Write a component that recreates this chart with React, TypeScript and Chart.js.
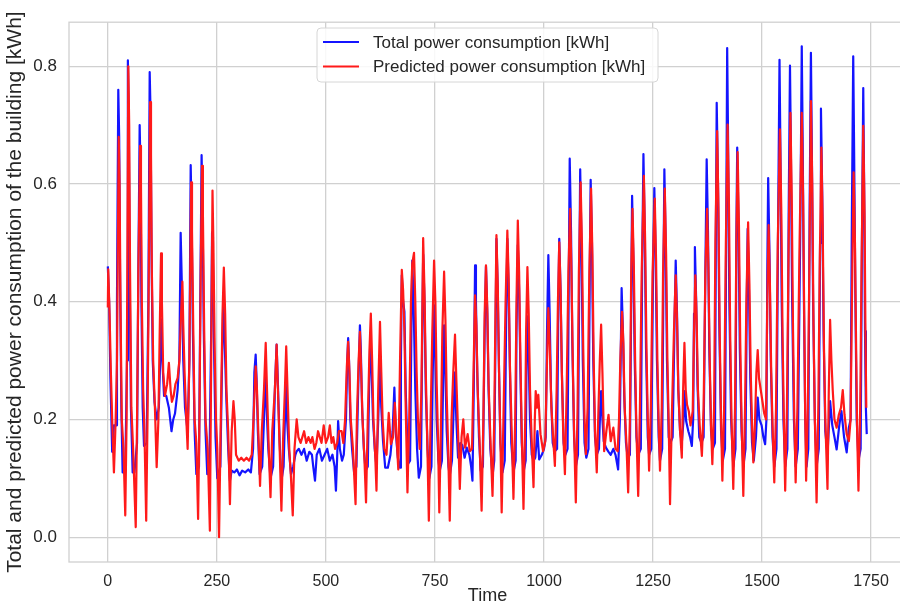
import React, { useEffect, useRef } from "react";
import { Chart, registerables } from "chart.js";

Chart.register(...registerables);

const seriesLabels = ["Total power consumption [kWh]", "Predicted power consumption [kWh]"];
const seriesColors = ["#1414ff", "#ff1a1a"];
const xTicks = [0, 250, 500, 750, 1000, 1250, 1500, 1750];
const yTicks = [0, 0.2, 0.4, 0.6, 0.8];
const xTitle = "Time";
const yTitle = "Total and predicted power consumption of the building [kWh]";

// [time index, kWh]
const actualPoints: [number, number][] = [
  [0,0.46],[3,0.40],[6,0.27],[10,0.145],[14,0.19],[19,0.19],[21,0.4],[24,0.76],[26,0.68],[28,0.45],[31,0.22],[34,0.11],[40,0.11],[44,0.3],[46,0.81],[48,0.72],[50,0.45],[53,0.22],[57,0.11],[61,0.11],[67,0.16],[70,0.45],[73,0.70],[75,0.62],[77,0.40],[80,0.22],[83,0.155],[89,0.16],[93,0.4],[96,0.79],[98,0.72],[100,0.50],[103,0.30],[107,0.23],[112,0.20],[117,0.22],[120,0.30],[122,0.37],[125,0.30],[129,0.24],[134,0.24],[140,0.22],[146,0.18],[150,0.20],[154,0.21],[160,0.25],[164,0.30],[167,0.517],[170,0.42],[173,0.30],[177,0.22],[183,0.18],[187,0.3],[190,0.632],[192,0.55],[195,0.35],[199,0.18],[203,0.107],[209,0.12],[212,0.4],[215,0.649],[217,0.57],[220,0.35],[224,0.18],[228,0.107],[233,0.12],[237,0.35],[239,0.518],[241,0.47],[244,0.30],[247,0.17],[251,0.10],[258,0.12],[262,0.3],[265,0.41],[268,0.33],[272,0.23],[276,0.15],[280,0.096],[284,0.113],[290,0.11],[296,0.115],[302,0.105],[308,0.113],[315,0.11],[322,0.115],[328,0.11],[333,0.15],[336,0.28],[339,0.31],[341,0.27],[344,0.18],[348,0.107],[354,0.12],[358,0.2],[361,0.276],[364,0.22],[368,0.15],[373,0.10],[379,0.12],[383,0.25],[387,0.327],[390,0.26],[394,0.16],[398,0.096],[403,0.12],[406,0.2],[408,0.26],[411,0.2],[415,0.15],[420,0.107],[425,0.12],[430,0.14],[433,0.146],[438,0.15],[444,0.14],[450,0.15],[456,0.13],[462,0.145],[468,0.14],[471,0.12],[475,0.096],[479,0.14],[485,0.15],[491,0.13],[497,0.14],[503,0.15],[509,0.13],[515,0.14],[520,0.12],[523,0.079],[526,0.14],[528,0.197],[532,0.15],[537,0.13],[541,0.14],[546,0.2],[549,0.3],[551,0.338],[553,0.3],[556,0.2],[560,0.15],[565,0.107],[570,0.12],[574,0.25],[578,0.36],[580,0.32],[583,0.22],[587,0.15],[591,0.113],[596,0.12],[599,0.25],[602,0.344],[605,0.28],[608,0.2],[612,0.15],[616,0.12],[620,0.2],[624,0.3],[627,0.22],[631,0.163],[636,0.118],[642,0.118],[648,0.14],[653,0.18],[657,0.254],[660,0.18],[665,0.135],[670,0.118],[672,0.3],[674,0.445],[677,0.40],[680,0.383],[683,0.25],[688,0.124],[693,0.13],[696,0.35],[698,0.47],[701,0.4],[705,0.25],[709,0.15],[713,0.101],[718,0.12],[721,0.35],[723,0.48],[726,0.4],[729,0.25],[733,0.15],[737,0.10],[742,0.12],[745,0.28],[748,0.394],[751,0.3],[754,0.2],[758,0.13],[761,0.113],[766,0.13],[769,0.28],[771,0.36],[774,0.28],[777,0.18],[781,0.12],[784,0.105],[789,0.13],[793,0.22],[796,0.28],[799,0.2],[803,0.135],[808,0.16],[813,0.156],[818,0.135],[823,0.152],[829,0.14],[833,0.12],[836,0.096],[839,0.25],[842,0.462],[844,0.40],[847,0.28],[851,0.17],[855,0.113],[860,0.12],[864,0.35],[867,0.46],[870,0.38],[873,0.25],[877,0.15],[882,0.104],[886,0.13],[889,0.35],[891,0.507],[894,0.42],[897,0.28],[900,0.16],[905,0.11],[910,0.13],[913,0.35],[916,0.507],[919,0.42],[922,0.28],[925,0.16],[930,0.11],[935,0.13],[937,0.35],[940,0.496],[943,0.42],[946,0.28],[949,0.16],[953,0.11],[958,0.13],[960,0.3],[962,0.375],[965,0.3],[968,0.2],[972,0.14],[976,0.13],[980,0.135],[985,0.18],[989,0.132],[995,0.14],[1000,0.15],[1004,0.17],[1007,0.35],[1010,0.479],[1013,0.38],[1016,0.25],[1020,0.16],[1025,0.146],[1030,0.15],[1033,0.4],[1035,0.507],[1038,0.42],[1041,0.28],[1045,0.16],[1049,0.14],[1054,0.15],[1057,0.45],[1059,0.643],[1062,0.52],[1065,0.33],[1069,0.17],[1073,0.12],[1078,0.14],[1081,0.45],[1083,0.625],[1086,0.5],[1089,0.3],[1093,0.16],[1097,0.135],[1102,0.15],[1105,0.45],[1107,0.607],[1110,0.5],[1113,0.3],[1117,0.17],[1121,0.14],[1126,0.15],[1129,0.22],[1131,0.248],[1134,0.2],[1137,0.163],[1142,0.152],[1148,0.145],[1153,0.14],[1159,0.15],[1164,0.14],[1170,0.115],[1174,0.2],[1178,0.423],[1181,0.35],[1184,0.24],[1188,0.16],[1192,0.135],[1197,0.14],[1200,0.4],[1202,0.58],[1205,0.47],[1208,0.3],[1212,0.17],[1216,0.14],[1222,0.15],[1225,0.45],[1228,0.651],[1231,0.52],[1234,0.32],[1238,0.17],[1241,0.14],[1246,0.15],[1250,0.45],[1253,0.593],[1256,0.48],[1259,0.3],[1263,0.17],[1266,0.13],[1271,0.15],[1274,0.45],[1276,0.625],[1279,0.5],[1282,0.3],[1286,0.17],[1290,0.16],[1295,0.17],[1299,0.35],[1302,0.47],[1305,0.38],[1308,0.25],[1312,0.18],[1316,0.16],[1320,0.2],[1322,0.248],[1326,0.197],[1331,0.18],[1335,0.17],[1339,0.155],[1342,0.2],[1344,0.38],[1346,0.493],[1349,0.4],[1352,0.26],[1356,0.17],[1361,0.16],[1366,0.17],[1370,0.45],[1373,0.642],[1376,0.52],[1379,0.32],[1383,0.18],[1387,0.15],[1392,0.16],[1394,0.5],[1396,0.738],[1399,0.6],[1402,0.36],[1406,0.18],[1410,0.13],[1415,0.15],[1418,0.55],[1420,0.831],[1422,0.68],[1425,0.4],[1429,0.2],[1434,0.12],[1439,0.15],[1441,0.5],[1443,0.662],[1446,0.53],[1449,0.32],[1453,0.18],[1457,0.12],[1462,0.15],[1465,0.4],[1467,0.524],[1470,0.42],[1473,0.27],[1477,0.16],[1481,0.13],[1486,0.17],[1490,0.237],[1494,0.2],[1499,0.19],[1503,0.17],[1507,0.158],[1510,0.2],[1512,0.45],[1514,0.61],[1517,0.48],[1520,0.3],[1524,0.17],[1528,0.12],[1533,0.15],[1537,0.55],[1540,0.811],[1542,0.66],[1545,0.4],[1549,0.2],[1553,0.12],[1558,0.15],[1561,0.55],[1564,0.801],[1566,0.66],[1569,0.4],[1573,0.2],[1577,0.12],[1582,0.15],[1588,0.55],[1591,0.834],[1593,0.68],[1596,0.4],[1599,0.2],[1602,0.12],[1606,0.15],[1609,0.55],[1612,0.823],[1614,0.67],[1617,0.4],[1621,0.2],[1625,0.12],[1630,0.15],[1633,0.5],[1635,0.728],[1638,0.58],[1641,0.35],[1645,0.18],[1650,0.14],[1654,0.2],[1656,0.231],[1661,0.19],[1666,0.17],[1671,0.149],[1677,0.19],[1682,0.214],[1688,0.17],[1694,0.144],[1699,0.186],[1703,0.2],[1706,0.55],[1709,0.817],[1711,0.66],[1714,0.4],[1717,0.2],[1721,0.13],[1726,0.15],[1729,0.5],[1732,0.763],[1734,0.6],[1736,0.35],[1738,0.22],[1740,0.175]
];

const predictedPoints: [number, number][] = [
  [0,0.39],[1,0.455],[4,0.38],[7,0.28],[10,0.2],[14,0.11],[18,0.2],[21,0.3],[25,0.68],[27,0.6],[29,0.4],[32,0.2],[36,0.15],[40,0.037],[43,0.2],[47,0.80],[49,0.7],[51,0.45],[54,0.22],[58,0.15],[64,0.017],[67,0.2],[70,0.45],[74,0.665],[76,0.6],[78,0.4],[81,0.25],[84,0.18],[88,0.028],[91,0.2],[94,0.45],[97,0.739],[99,0.65],[101,0.45],[104,0.3],[108,0.22],[112,0.119],[116,0.2],[119,0.35],[122,0.482],[124,0.4],[127,0.28],[131,0.24],[136,0.26],[140,0.296],[144,0.25],[147,0.23],[151,0.24],[155,0.26],[160,0.27],[164,0.3],[168,0.38],[171,0.434],[173,0.36],[176,0.28],[180,0.2],[183,0.15],[187,0.3],[191,0.603],[193,0.52],[196,0.35],[199,0.2],[203,0.16],[207,0.031],[210,0.2],[213,0.45],[216,0.631],[218,0.55],[221,0.35],[224,0.2],[229,0.15],[234,0.011],[237,0.3],[240,0.589],[242,0.5],[245,0.32],[248,0.2],[251,0.15],[255,0.0],[259,0.2],[263,0.38],[266,0.458],[269,0.38],[272,0.25],[276,0.18],[280,0.056],[284,0.18],[288,0.231],[291,0.2],[294,0.14],[300,0.13],[306,0.135],[312,0.13],[318,0.135],[324,0.13],[330,0.14],[334,0.2],[339,0.29],[342,0.25],[345,0.18],[349,0.087],[353,0.18],[358,0.25],[362,0.33],[365,0.25],[369,0.15],[373,0.068],[377,0.18],[383,0.25],[387,0.327],[390,0.25],[394,0.15],[398,0.045],[402,0.17],[406,0.25],[409,0.324],[412,0.25],[416,0.15],[420,0.1],[424,0.037],[428,0.15],[433,0.2],[437,0.17],[442,0.16],[446,0.17],[450,0.18],[455,0.16],[460,0.17],[465,0.16],[469,0.17],[474,0.15],[478,0.16],[482,0.18],[486,0.17],[490,0.16],[495,0.19],[500,0.16],[505,0.17],[509,0.19],[513,0.16],[517,0.17],[521,0.15],[526,0.16],[530,0.18],[536,0.18],[540,0.16],[544,0.2],[548,0.29],[551,0.332],[554,0.28],[557,0.2],[562,0.15],[568,0.056],[571,0.2],[575,0.3],[578,0.349],[581,0.28],[584,0.2],[588,0.14],[592,0.059],[596,0.2],[600,0.32],[603,0.38],[606,0.3],[609,0.2],[613,0.14],[616,0.079],[620,0.25],[624,0.366],[627,0.28],[630,0.2],[634,0.15],[639,0.14],[644,0.211],[649,0.158],[654,0.17],[658,0.228],[662,0.17],[666,0.115],[670,0.3],[674,0.454],[677,0.42],[680,0.35],[683,0.22],[687,0.076],[691,0.2],[695,0.4],[698,0.465],[702,0.483],[705,0.4],[708,0.28],[711,0.2],[715,0.15],[719,0.25],[723,0.508],[726,0.42],[729,0.28],[732,0.18],[736,0.028],[740,0.2],[744,0.35],[748,0.47],[751,0.4],[754,0.26],[757,0.17],[760,0.042],[764,0.2],[767,0.35],[771,0.451],[774,0.37],[777,0.24],[780,0.16],[784,0.028],[788,0.2],[792,0.28],[796,0.344],[799,0.27],[803,0.18],[807,0.082],[811,0.17],[815,0.2],[819,0.152],[825,0.175],[830,0.146],[835,0.15],[839,0.3],[842,0.411],[845,0.36],[848,0.25],[852,0.17],[857,0.045],[861,0.2],[864,0.38],[867,0.462],[870,0.39],[873,0.26],[877,0.17],[882,0.07],[886,0.2],[889,0.4],[891,0.513],[894,0.43],[897,0.28],[900,0.17],[903,0.042],[907,0.2],[912,0.4],[916,0.521],[919,0.44],[922,0.29],[926,0.18],[930,0.065],[934,0.2],[937,0.4],[940,0.538],[943,0.45],[946,0.3],[949,0.18],[953,0.048],[957,0.2],[959,0.35],[962,0.459],[965,0.38],[968,0.25],[972,0.16],[976,0.085],[979,0.2],[981,0.248],[984,0.22],[987,0.242],[992,0.175],[998,0.146],[1003,0.163],[1007,0.3],[1010,0.389],[1013,0.33],[1017,0.22],[1021,0.17],[1025,0.121],[1029,0.25],[1032,0.4],[1035,0.501],[1038,0.42],[1041,0.28],[1044,0.18],[1048,0.107],[1052,0.25],[1056,0.45],[1060,0.558],[1063,0.45],[1066,0.3],[1069,0.18],[1073,0.059],[1077,0.22],[1080,0.45],[1084,0.603],[1087,0.5],[1090,0.32],[1093,0.2],[1096,0.141],[1100,0.22],[1104,0.45],[1108,0.592],[1111,0.48],[1114,0.3],[1117,0.18],[1121,0.11],[1125,0.22],[1128,0.3],[1131,0.361],[1134,0.28],[1138,0.146],[1143,0.18],[1148,0.208],[1153,0.163],[1159,0.186],[1164,0.15],[1169,0.146],[1172,0.2],[1175,0.3],[1179,0.383],[1182,0.33],[1185,0.22],[1189,0.16],[1193,0.076],[1197,0.2],[1200,0.45],[1203,0.558],[1206,0.46],[1209,0.3],[1212,0.18],[1216,0.07],[1220,0.22],[1224,0.45],[1229,0.614],[1232,0.5],[1235,0.32],[1238,0.2],[1241,0.113],[1245,0.22],[1249,0.45],[1254,0.575],[1257,0.47],[1260,0.3],[1263,0.19],[1266,0.113],[1270,0.22],[1273,0.45],[1277,0.592],[1280,0.48],[1283,0.3],[1286,0.19],[1289,0.056],[1293,0.2],[1298,0.35],[1302,0.445],[1305,0.37],[1308,0.25],[1312,0.18],[1316,0.135],[1319,0.25],[1322,0.33],[1325,0.25],[1328,0.225],[1332,0.214],[1336,0.19],[1341,0.214],[1344,0.35],[1347,0.445],[1350,0.37],[1353,0.25],[1357,0.19],[1362,0.138],[1366,0.22],[1370,0.45],[1374,0.558],[1377,0.46],[1380,0.3],[1383,0.19],[1386,0.124],[1390,0.22],[1393,0.5],[1397,0.69],[1400,0.56],[1403,0.34],[1406,0.2],[1409,0.096],[1413,0.22],[1417,0.5],[1421,0.701],[1424,0.57],[1427,0.34],[1430,0.2],[1434,0.082],[1438,0.22],[1441,0.5],[1444,0.654],[1447,0.53],[1450,0.33],[1453,0.2],[1457,0.07],[1461,0.22],[1464,0.4],[1468,0.535],[1471,0.43],[1474,0.28],[1477,0.19],[1480,0.127],[1484,0.2],[1487,0.28],[1490,0.318],[1493,0.27],[1497,0.25],[1501,0.23],[1505,0.21],[1509,0.2],[1512,0.4],[1515,0.53],[1518,0.43],[1521,0.28],[1524,0.19],[1528,0.093],[1532,0.22],[1536,0.5],[1541,0.693],[1544,0.56],[1547,0.34],[1550,0.2],[1553,0.079],[1557,0.22],[1561,0.5],[1565,0.721],[1568,0.58],[1571,0.35],[1574,0.2],[1577,0.093],[1581,0.22],[1586,0.5],[1591,0.721],[1594,0.58],[1597,0.35],[1599,0.2],[1601,0.096],[1605,0.22],[1609,0.5],[1612,0.741],[1615,0.6],[1618,0.36],[1621,0.2],[1625,0.059],[1629,0.22],[1632,0.45],[1636,0.662],[1639,0.53],[1642,0.32],[1645,0.2],[1650,0.082],[1653,0.25],[1656,0.369],[1659,0.3],[1662,0.25],[1666,0.2],[1671,0.186],[1676,0.208],[1681,0.22],[1685,0.25],[1689,0.208],[1694,0.175],[1699,0.163],[1703,0.2],[1706,0.4],[1710,0.62],[1713,0.5],[1716,0.3],[1718,0.18],[1721,0.079],[1725,0.22],[1728,0.45],[1732,0.699],[1735,0.55],[1737,0.35],[1739,0.22]
];

const FONT = "'Liberation Sans', Arial, Helvetica, sans-serif";
const TEXT_COLOR = "#262626";
const GRID_COLOR = "#d0d0d0";

const framePlugin = {
  id: "frame",
  beforeDatasetsDraw(chart: any) {
    const { ctx, chartArea } = chart;
    ctx.save();
    ctx.strokeStyle = GRID_COLOR;
    ctx.lineWidth = 1.3;
    ctx.strokeRect(chartArea.left, chartArea.top, chartArea.right - chartArea.left, chartArea.bottom - chartArea.top);
    ctx.restore();
  },
};

const legendPlugin = {
  id: "customLegend",
  afterDatasetsDraw(chart: any) {
    const { ctx } = chart;
    const x = 317, y = 28, w = 341, h = 54;
    ctx.save();
    ctx.beginPath();
    if ((ctx as any).roundRect) (ctx as any).roundRect(x, y, w, h, 4);
    else ctx.rect(x, y, w, h);
    ctx.fillStyle = "rgba(255,255,255,0.85)";
    ctx.fill();
    ctx.strokeStyle = "#d6d6d6";
    ctx.lineWidth = 1;
    ctx.stroke();
    const rows = [42, 66.5];
    seriesLabels.forEach((label, i) => {
      ctx.beginPath();
      ctx.strokeStyle = seriesColors[i];
      ctx.lineWidth = 2.2;
      ctx.moveTo(323, rows[i]);
      ctx.lineTo(359, rows[i]);
      ctx.stroke();
      ctx.fillStyle = TEXT_COLOR;
      ctx.font = `17px ${FONT}`;
      ctx.textBaseline = "middle";
      ctx.textAlign = "left";
      ctx.fillText(label, 373, rows[i] + 1);
    });
    ctx.restore();
  },
};

export default function App() {
  const canvasRef = useRef<HTMLCanvasElement | null>(null);

  useEffect(() => {
    if (!canvasRef.current) return;
    const chart = new Chart(canvasRef.current, {
      type: "line",
      data: {
        datasets: [
          {
            label: seriesLabels[0],
            data: actualPoints.map(([x, y]) => ({ x, y })),
            borderColor: seriesColors[0],
            backgroundColor: seriesColors[0],
            borderWidth: 2.2,
            pointRadius: 0,
            tension: 0,
            borderJoinStyle: "round",
            order: 2,
          },
          {
            label: seriesLabels[1],
            data: predictedPoints.map(([x, y]) => ({ x, y })),
            borderColor: seriesColors[1],
            backgroundColor: seriesColors[1],
            borderWidth: 2.2,
            pointRadius: 0,
            tension: 0,
            borderJoinStyle: "round",
            order: 1,
          },
        ],
      },
      options: {
        animation: false,
        responsive: true,
        maintainAspectRatio: false,
        layout: { padding: { top: 19, right: 0, left: 0, bottom: 0 } },
        plugins: {
          legend: { display: false },
          tooltip: { enabled: false },
        },
        scales: {
          x: {
            type: "linear",
            min: -89,
            max: 1830,
            afterBuildTicks: (scale: any) => {
              scale.ticks = xTicks.map((v) => ({ value: v }));
            },
            afterFit: (scale: any) => {
              scale.height = 53;
            },
            grid: { color: GRID_COLOR, lineWidth: 1.3, drawTicks: false },
            border: { display: false },
            ticks: {
              padding: 10,
              color: TEXT_COLOR,
              font: { family: FONT, size: 16 },
              maxRotation: 0,
              callback: (v: any) => String(v),
            },
            title: {
              display: true,
              text: xTitle,
              color: TEXT_COLOR,
              font: { family: FONT, size: 18 },
              padding: { top: 0, bottom: 8 },
            },
          },
          y: {
            type: "linear",
            min: -0.0422,
            max: 0.8749,
            afterBuildTicks: (scale: any) => {
              scale.ticks = yTicks.map((v) => ({ value: v }));
            },
            afterFit: (scale: any) => {
              scale.width = 69;
            },
            grid: { color: GRID_COLOR, lineWidth: 1.3, drawTicks: false },
            border: { display: false },
            ticks: {
              padding: 12,
              color: TEXT_COLOR,
              font: { family: FONT, size: 17 },
              callback: (v: any) => Number(v).toFixed(1),
            },
            title: {
              display: true,
              text: yTitle,
              color: TEXT_COLOR,
              font: { family: FONT, size: 21 },
              padding: { top: 3, bottom: 0 },
            },
          },
        },
      },
      plugins: [framePlugin, legendPlugin],
    });
    return () => chart.destroy();
  }, []);

  return (
    <div style={{ position: "fixed", left: 0, top: 0, width: 900, height: 615, overflow: "hidden", background: "#ffffff" }}>
      <div style={{ position: "relative", width: 906, height: 615 }}>
        <canvas ref={canvasRef} />
      </div>
    </div>
  );
}
